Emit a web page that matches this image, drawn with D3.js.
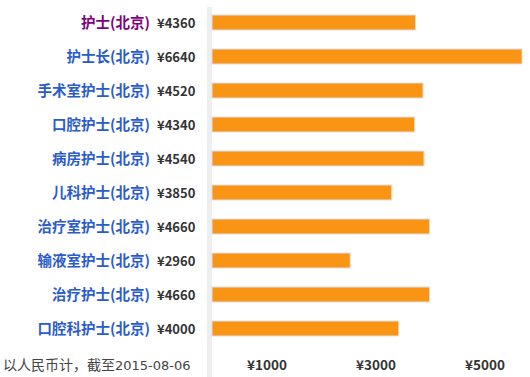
<!DOCTYPE html>
<html><head><meta charset="utf-8">
<script src="https://cdn.jsdelivr.net/npm/d3@7"></script>
<style>body{margin:0;background:#fff;}</style>
</head><body>
<svg id="c" width="530" height="377"></svg>
<script>
const categories = ["护士(北京)","护士长(北京)","手术室护士(北京)","口腔护士(北京)","病房护士(北京)","儿科护士(北京)","治疗室护士(北京)","输液室护士(北京)","治疗护士(北京)","口腔科护士(北京)"];
const values = [4360,6640,4520,4340,4540,3850,4660,2960,4660,4000];
const tickLabels = ["¥1000","¥3000","¥5000"];
const note = "以人民币计，截至2015-08-06";

const svg = d3.select("#c");
const font = "'Noto Sans CJK SC','Microsoft YaHei',sans-serif";
const x = d3.scaleLinear().domain([0, 6640]).range([212, 522]);
const y = d3.scaleBand().domain(categories).range([5, 345]).paddingInner(0.56).paddingOuter(0.28);

svg.append("rect").attr("x",207).attr("y",7).attr("width",5).attr("height",370).attr("fill","#eeeeee");

const rows = svg.selectAll("g.row").data(categories).join("g").attr("class","row");
rows.append("rect")
  .attr("x", x(0)).attr("y", d => y(d) + 0.5)
  .attr("width", (d,i) => x(values[i]) - x(0)).attr("height", y.bandwidth())
  .attr("fill","#fa9414").attr("stroke","#dddddd").attr("stroke-width",1);
rows.append("text")
  .attr("x",150).attr("y", d => y(d) + y.bandwidth()/2 + 1).attr("dy","0.36em")
  .attr("text-anchor","end").attr("font-family",font).attr("font-size",14.5).attr("font-weight","bold")
  .attr("fill",(d,i)=> i===0 ? "#800080" : "#2a5cc8").text(d=>d);
rows.append("text")
  .attr("x",157).attr("y", d => y(d) + y.bandwidth()/2 + 1).attr("dy","0.36em")
  .attr("font-family",font).attr("font-size",13).attr("font-weight","bold")
  .attr("fill","#333").text((d,i)=>"¥"+values[i]);

const tx = d3.scalePoint().domain(tickLabels).range([267, 485]);
svg.selectAll("text.tick").data(tickLabels).join("text").attr("class","tick")
  .attr("x", d=>tx(d)).attr("y",365).attr("dy","0.36em").attr("text-anchor","middle")
  .attr("font-family",font).attr("font-size",13.5).attr("font-weight","bold").attr("fill","#333").text(d=>d);

svg.append("text").attr("x",3).attr("y",365).attr("dy","0.36em")
  .attr("font-family",font).attr("font-size",14).attr("fill","#444").text("以人民币计，截至")
  .append("tspan").attr("font-family","'DejaVu Sans',sans-serif").attr("font-size",13).text("2015-08-06");
</script>
</body></html>
